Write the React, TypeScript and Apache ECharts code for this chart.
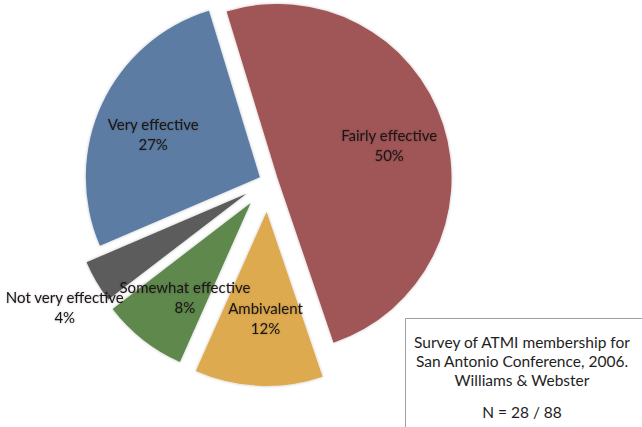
import React, { useEffect, useRef } from "react";
import * as echarts from "echarts";

const categories = ["Fairly effective", "Ambivalent", "Somewhat effective", "Not very effective", "Very effective"];
const percents = [50, 12, 8, 4, 27];
const colors = ["#A05456", "#DDAA50", "#5E884E", "#5C5C5C", "#5B7BA3"];
const explode = [10, 31, 28, 25, 9];
const labelShift = [[26, -5], [3, 16], [-10, 23], [-104, 68], [-25, -5]];
const noteLines = ["Survey of ATMI membership for", "San Antonio Conference, 2006.", "Williams & Webster", "", "N = 28 / 88"];
const noteY = [342, 361, 380, 0, 412];

const START = 107;
const CX = 268;
const CY = 181;
const R = 174;
const FONT = "Lato, 'Open Sans', sans-serif";

export default function App() {
  const ref = useRef<HTMLDivElement>(null);
  useEffect(() => {
    if (!ref.current) return;
    const chart = echarts.init(ref.current, undefined, { renderer: "svg" });
    const total = percents.reduce((a, b) => a + b, 0);
    let cum = 0;
    const series = percents.map((v, i) => {
      const mid = START - ((cum + v / 2) / total) * 360;
      cum += v;
      const rad = (mid * Math.PI) / 180;
      const cx = CX + explode[i] * Math.cos(rad);
      const cy = CY - explode[i] * Math.sin(rad);
      return {
        type: "pie",
        center: [cx, cy],
        radius: R,
        startAngle: START,
        clockwise: true,
        silent: true,
        avoidLabelOverlap: false,
        labelLayout: { dx: labelShift[i][0], dy: labelShift[i][1], hideOverlap: false, moveOverlap: null },
        label: {
          position: "inside",
          formatter: "{b}\n{c}%",
          fontFamily: FONT,
          fontSize: 15,
          lineHeight: 20,
          color: "#1b1414",
          textShadowColor: "rgba(0,0,0,0.25)",
          textShadowBlur: 2,
        },
        labelLine: { show: false },
        data: categories.map((name, j) => ({
          name,
          value: percents[j],
          itemStyle: {
            color: j === i ? colors[j] : "rgba(0,0,0,0)",
            borderWidth: 0,
            shadowBlur: j === i ? 3 : 0,
            shadowColor: "rgba(0,0,0,0.25)",
          },
          label: { show: j === i },
        })),
      };
    });
    const graphic: any[] = [
      {
        type: "rect",
        shape: { x: 405.5, y: 318.5, width: 260, height: 140 },
        style: { fill: "#fff", stroke: "#a0a0a0", lineWidth: 1 },
        z: 10,
      },
    ];
    noteLines.forEach((t, k) => {
      if (!t) return;
      graphic.push({
        type: "text",
        x: 522,
        y: noteY[k],
        z: 11,
        style: {
          text: t,
          fontFamily: FONT,
          fontSize: 15.5,
          fill: "#1e1e1e",
          textAlign: "center",
          textVerticalAlign: "middle",
        },
      });
    });
    chart.setOption({
      animation: false,
      backgroundColor: "#fff",
      series,
      graphic,
    });
    return () => chart.dispose();
  }, []);
  return <div ref={ref} style={{ position: "fixed", left: 0, top: 0, width: 642, height: 427 }} />;
}
